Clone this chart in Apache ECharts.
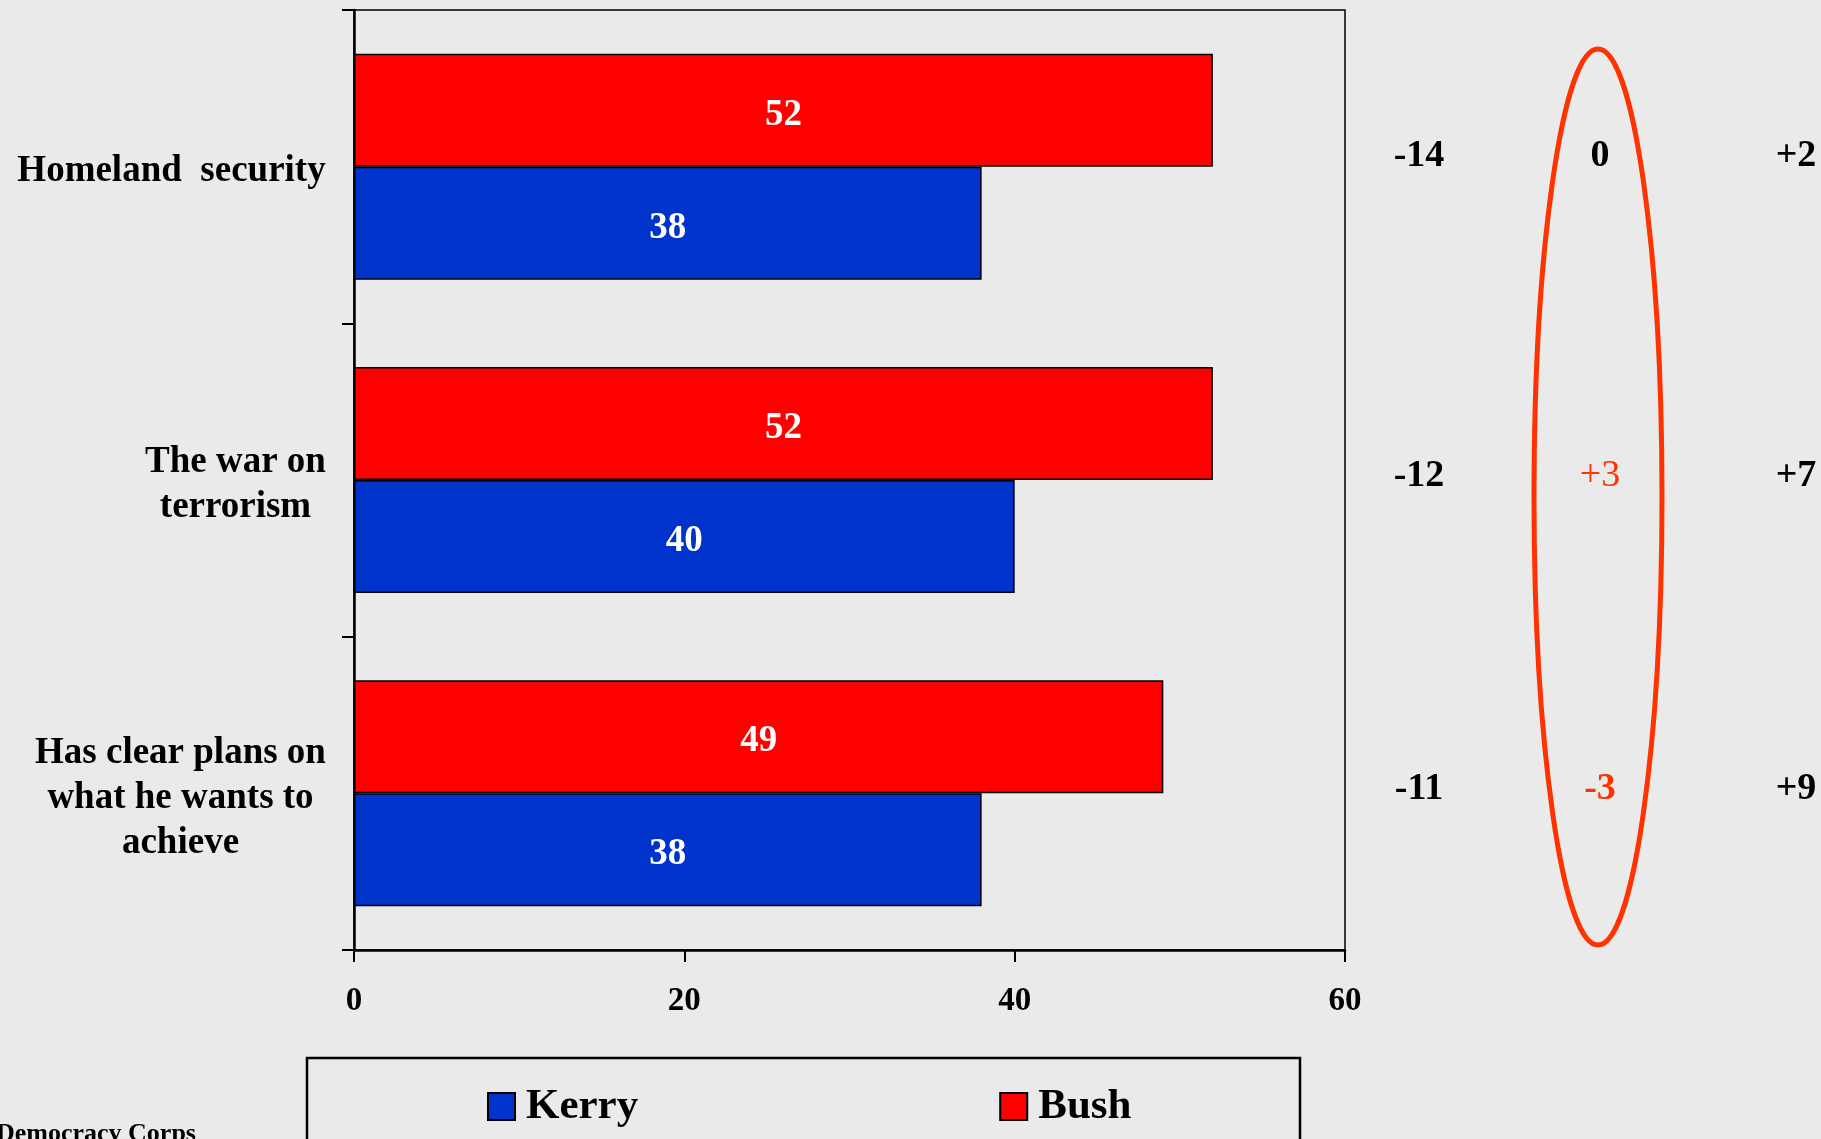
<!DOCTYPE html>
<html><head><meta charset="utf-8">
<script src="https://cdn.jsdelivr.net/npm/echarts@6/dist/echarts.min.js"></script>
<style>html,body{margin:0;padding:0;background:#EAEAEA;overflow:hidden;} #c{width:1821px;height:1139px;}</style>
</head><body><div id="c"></div>
<script>
// ---- data ----
const categories = ['Homeland  security', 'The war on\nterrorism', 'Has clear plans on\nwhat he wants to\nachieve'];
const seriesNames = ['Kerry', 'Bush'];
const kerry = [38, 40, 38];
const bush = [52, 52, 49];
const marginCol1 = ['-14', '-12', '-11'];
const marginCol2 = ['0', '+3', '-3'];
const marginCol3 = ['+2', '+7', '+9'];
const xTicks = [0, 20, 40, 60];
const footer = 'Democracy Corps';

// ---- styles ----
const SERIF = '"Liberation Serif", "Times New Roman", serif';
const BG = '#EAEAEA';
const RED = '#FF0000', BLUE = '#0033CC', ORANGE = '#FF3300';

// measure label widths for centered multi-line labels
const cv = document.createElement('canvas').getContext('2d');
cv.font = 'bold 37px ' + SERIF;
const rich = {};
categories.forEach((c, i) => {
  const w = Math.max(...c.split('\n').map(l => cv.measureText(l).width));
  rich['l' + i] = {width: Math.ceil(w) + 2, align: 'center', fontSize: 37, fontWeight: 'bold',
                   fontFamily: SERIF, lineHeight: 45, color: '#000', padding: [10, 0, 0, 0]};
});

const chart = echarts.init(document.getElementById('c'), null, {renderer: 'canvas'});
const barLabel = {show: true, position: 'inside', offset: [0, 5], color: '#fff', fontSize: 37, fontWeight: 'bold', fontFamily: SERIF};
chart.setOption({
  animation: false,
  backgroundColor: BG,
  grid: {left: 354, right: 476, top: 10, bottom: 189, show: true, borderColor: '#000', borderWidth: 1.5, backgroundColor: 'transparent'},
  xAxis: {
    type: 'value', min: xTicks[0], max: xTicks[xTicks.length - 1], interval: xTicks[1] - xTicks[0],
    axisLine: {show: true, lineStyle: {color: '#000', width: 2.5}},
    axisTick: {show: true, length: 12, lineStyle: {color: '#000', width: 2}},
    axisLabel: {color: '#000', fontSize: 33, fontWeight: 'bold', fontFamily: SERIF, margin: 35},
    splitLine: {show: false}
  },
  yAxis: {
    type: 'category', data: categories, inverse: true,
    axisLine: {show: true, lineStyle: {color: '#000', width: 2.5}},
    axisTick: {show: true, length: 12, lineStyle: {color: '#000', width: 2}},
    axisLabel: {margin: 27, align: 'right', formatter: (v, i) => '{l' + i + '|' + v + '}', rich: rich}
  },
  legend: {
    data: seriesNames, left: 482, top: 1080, itemWidth: 27, itemHeight: 27, itemGap: 361, icon: 'rect',
    textStyle: {color: '#000', fontSize: 43, fontWeight: 'bold', fontFamily: SERIF, padding: [0, 0, 0, 6]}
  },
  series: [
    {name: seriesNames[1], type: 'bar', data: bush, barWidth: 113, barGap: '0%',
     itemStyle: {color: RED, borderColor: '#000', borderWidth: 1.5}, label: barLabel},
    {name: seriesNames[0], type: 'bar', data: kerry, barWidth: 113, barGap: '0%',
     itemStyle: {color: BLUE, borderColor: '#000', borderWidth: 1.5}, label: barLabel}
  ]
});

// annotation columns on the right, rows aligned to the category axis
const ys = categories.map((c, i) => chart.convertToPixel({yAxisIndex: 0}, i));
const cols = [
  {vals: marginCol1, x: 1419, colors: ['#000', '#000', '#000'], weights: ['bold', 'bold', 'bold']},
  {vals: marginCol2, x: 1600, colors: ['#000', ORANGE, ORANGE], weights: ['bold', 'normal', 'bold']},
  {vals: marginCol3, x: 1796, colors: ['#000', '#000', '#000'], weights: ['bold', 'bold', 'bold']}
];
const graphics = [];
cols.forEach(col => col.vals.forEach((t, i) => {
  graphics.push({type: 'text', x: col.x, y: ys[i] - (i === 0 ? 10 : 4), style: {text: t, fill: col.colors[i],
    font: col.weights[i] + ' 38px ' + SERIF, textAlign: 'center', textVerticalAlign: 'middle'}});
}));
graphics.push({type: 'ellipse', shape: {cx: 1598, cy: 497, rx: 64, ry: 448},
  style: {fill: 'none', stroke: ORANGE, lineWidth: 5}});
graphics.push({type: 'rect', shape: {x: 307, y: 1058, width: 993, height: 120},
  style: {fill: 'none', stroke: '#000', lineWidth: 2.5}});
graphics.push({type: 'text', x: -4, y: 1121, style: {text: footer, fill: '#000',
  font: 'bold 26px ' + SERIF, textAlign: 'left', textVerticalAlign: 'top'}});
chart.setOption({graphic: graphics});
</script></body></html>
